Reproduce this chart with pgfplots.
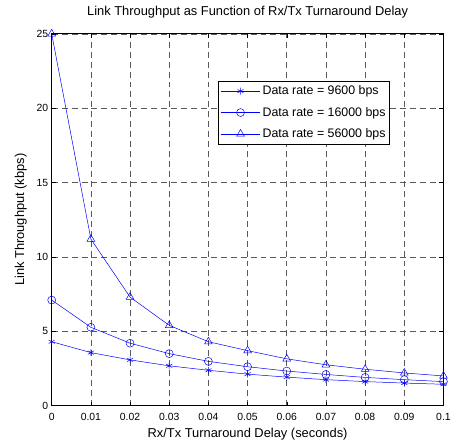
\documentclass[border=0pt]{standalone}
\usepackage{fontspec}
\setmainfont{Liberation Sans}
\usepackage{pgfplots}
\pgfplotsset{compat=1.18}
\usetikzlibrary{calc}

\definecolor{mblue}{rgb}{0,0,1}
\definecolor{gridgray}{rgb}{0.35,0.35,0.35}

\begin{document}
\begin{tikzpicture}
\begin{axis}[
    scale only axis,
    width=394bp, height=374bp,
    xmin=0, xmax=0.1, ymin=0, ymax=25,
    xtick={0,0.01,...,0.1},
    ytick={0,5,...,25},
    xticklabels={0,0.01,0.02,0.03,0.04,0.05,0.06,0.07,0.08,0.09,0.1},
    /pgf/number format/assume math mode=true,
    tick align=inside,
    major tick length=4bp,
    tick style={black, line width=0.5pt},
    axis line style={black, line width=0.8pt},
    grid=major,
    major grid style={gridgray, dash pattern=on 6bp off 4bp, line width=0.6pt},
    ticklabel style={font=\fontsize{10.5}{12}\selectfont},
    xticklabel style={yshift=-4bp},
    title={Link Throughput as Function of Rx/Tx Turnaround Delay},
    title style={font=\fontsize{13}{15}\selectfont, at={(axis description cs:0.5,1.033)}, anchor=base},
    xlabel={Rx/Tx Turnaround Delay (seconds)},
    ylabel={Link Throughput (kbps)},
    xlabel style={font=\fontsize{13}{15}\selectfont, at={(axis description cs:0.5,-0.0775)}, anchor=center},
    ylabel style={font=\fontsize{13}{15}\selectfont, at={(axis description cs:-0.0787,0.5)}, anchor=center},
    legend style={at={(0.863,0.874)}, anchor=north east, draw=black, line width=0.6pt,
        font=\fontsize{12.5}{14}\selectfont, row sep=7bp, inner xsep=2bp, inner ysep=3bp},
    legend cell align=left,
    legend image code/.code={%
        \draw[mark repeat=2,mark phase=2] plot coordinates {(0bp,0bp) (20bp,0bp) (40bp,0bp)};},
    every axis plot/.append style={mblue, line width=0.5pt, mark options={solid, line width=0.5pt}},
]
\addplot[mark=asterisk, mark size=3.5bp] coordinates {
(0,4.30) (0.01,3.57) (0.02,3.08) (0.03,2.68) (0.04,2.38) (0.05,2.12)
(0.06,1.92) (0.07,1.75) (0.08,1.62) (0.09,1.52) (0.1,1.44)};
\addlegendentry{Data rate = 9600 bps}
\addplot[mark=o, mark size=4bp] coordinates {
(0,7.10) (0.01,5.27) (0.02,4.20) (0.03,3.50) (0.04,2.98) (0.05,2.62)
(0.06,2.33) (0.07,2.10) (0.08,1.90) (0.09,1.75) (0.1,1.62)};
\addlegendentry{Data rate = 16000 bps}
\addplot[mark=triangle, mark size=4.5bp] coordinates {
(0,25.0) (0.01,11.2) (0.02,7.30) (0.03,5.40) (0.04,4.30) (0.05,3.70)
(0.06,3.15) (0.07,2.75) (0.08,2.45) (0.09,2.20) (0.1,2.00)};
\addlegendentry{Data rate = 56000 bps}
\end{axis}
\path ($(current axis.south west)+(-52bp,-37bp)$) rectangle ($(current axis.north east)+(8bp,34bp)$);
\end{tikzpicture}
\end{document}
